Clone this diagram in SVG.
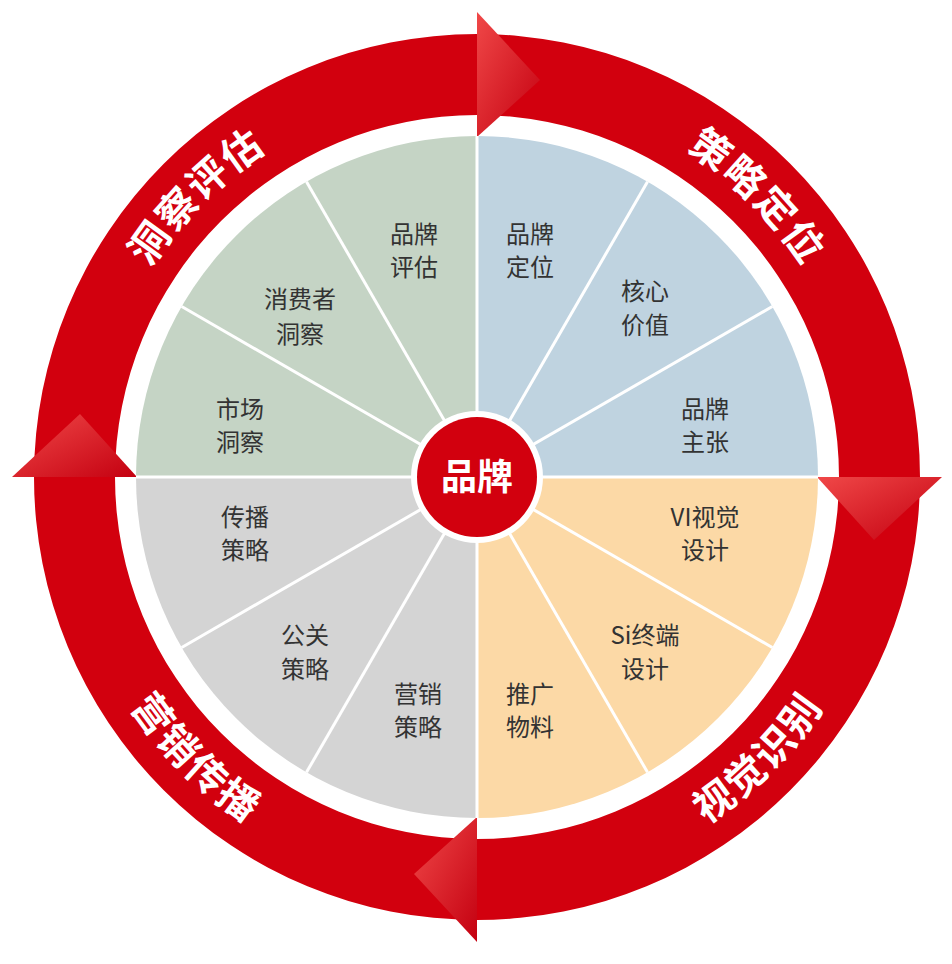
<svg xmlns="http://www.w3.org/2000/svg" xmlns:xlink="http://www.w3.org/1999/xlink" width="952" height="964" viewBox="0 0 952 964">
<style>
.lbl{font-family:"Noto Sans CJK SC","Noto Sans",sans-serif;font-size:24px;fill:#333;text-anchor:middle}
.ring{font-family:"Noto Sans CJK SC",sans-serif;font-size:40px;font-weight:bold;fill:#fff;letter-spacing:2px}
.sep{stroke:#fff;stroke-width:3}
.ah{fill:url(#ag)}
</style>
<defs>
<linearGradient id="ag" x1="0" y1="0" x2="1" y2="1"><stop offset="0" stop-color="#f04848"/><stop offset="1" stop-color="#c40010"/></linearGradient>
<path id="p1" d="M102.2,376.6 A388,388 0 0 1 376.6,102.2"/>
<path id="p2" d="M577.4,102.2 A388,388 0 0 1 851.8,376.6"/>
<path id="p3" d="M75.2,584.7 A416,416 0 0 0 369.3,878.8"/>
<path id="p4" d="M584.7,878.8 A416,416 0 0 0 878.8,584.7"/>
</defs>
<rect width="952" height="964" fill="#fff"/>
<g id="ring">
<path fill="#d2000e" fill-rule="evenodd" d="M34,477 A443,443 0 1 0 920,477 A443,443 0 1 0 34,477 Z M115,477 A362,362 0 1 1 839,477 A362,362 0 1 1 115,477 Z"/>
<polygon class="ah" points="477,137 477,12 540,80"/>
<polygon class="ah" points="817,477 942,477 874,540"/>
<polygon class="ah" points="477,817 477,942 414,874"/>
<polygon class="ah" points="137,477 12,477 80,414"/>
<text class="ring"><textPath xlink:href="#p1" startOffset="50%" text-anchor="middle">洞察评估</textPath></text>
<text class="ring"><textPath xlink:href="#p2" startOffset="50%" text-anchor="middle">策略定位</textPath></text>
<text class="ring"><textPath xlink:href="#p3" startOffset="50%" text-anchor="middle">营销传播</textPath></text>
<text class="ring"><textPath xlink:href="#p4" startOffset="50%" text-anchor="middle">视觉识别</textPath></text>
</g>
<g id="pie">
<path fill="#bfd3e0" d="M477,477 L477,136 A341,341 0 0 1 818,477 Z"/>
<path fill="#fcd9a6" d="M477,477 L818,477 A341,341 0 0 1 477,818 Z"/>
<path fill="#d4d4d4" d="M477,477 L477,818 A341,341 0 0 1 136,477 Z"/>
<path fill="#c5d4c5" d="M477,477 L136,477 A341,341 0 0 1 477,136 Z"/>
</g>
<g id="connectors">
<line class="sep" x1="477" y1="477" x2="818" y2="477"/>
<line class="sep" x1="477" y1="477" x2="772.3" y2="647.5"/>
<line class="sep" x1="477" y1="477" x2="647.5" y2="772.3"/>
<line class="sep" x1="477" y1="477" x2="477" y2="818"/>
<line class="sep" x1="477" y1="477" x2="306.5" y2="772.3"/>
<line class="sep" x1="477" y1="477" x2="181.7" y2="647.5"/>
<line class="sep" x1="477" y1="477" x2="136" y2="477"/>
<line class="sep" x1="477" y1="477" x2="181.7" y2="306.5"/>
<line class="sep" x1="477" y1="477" x2="306.5" y2="181.7"/>
<line class="sep" x1="477" y1="477" x2="477" y2="136"/>
<line class="sep" x1="477" y1="477" x2="647.5" y2="181.7"/>
<line class="sep" x1="477" y1="477" x2="772.3" y2="306.5"/>
</g>
<g id="labels">
<text class="lbl" x="414" y="243">品牌<tspan x="414" dy="33">评估</tspan></text>
<text class="lbl" x="530" y="243">品牌<tspan x="530" dy="33">定位</tspan></text>
<text class="lbl" x="645" y="300">核心<tspan x="645" dy="34">价值</tspan></text>
<text class="lbl" x="705" y="418">品牌<tspan x="705" dy="33">主张</tspan></text>
<text class="lbl" x="705" y="526">VI视觉<tspan x="705" dy="33">设计</tspan></text>
<text class="lbl" x="645" y="644">Si终端<tspan x="645" dy="34">设计</tspan></text>
<text class="lbl" x="530" y="703">推广<tspan x="530" dy="33">物料</tspan></text>
<text class="lbl" x="418" y="703">营销<tspan x="418" dy="33">策略</tspan></text>
<text class="lbl" x="305" y="644">公关<tspan x="305" dy="34">策略</tspan></text>
<text class="lbl" x="245" y="526">传播<tspan x="245" dy="33">策略</tspan></text>
<text class="lbl" x="240" y="418">市场<tspan x="240" dy="33">洞察</tspan></text>
<text class="lbl" x="300" y="308">消费者<tspan x="300" dy="35">洞察</tspan></text>
</g>
<g id="center">
<circle cx="477" cy="477" r="66" fill="#fff"/>
<circle cx="477" cy="477" r="60" fill="#d2000e"/>
<text x="477" y="490" text-anchor="middle" font-family="Noto Sans CJK SC,sans-serif" font-size="36" font-weight="bold" fill="#fff">品牌</text>
</g>
</svg>
